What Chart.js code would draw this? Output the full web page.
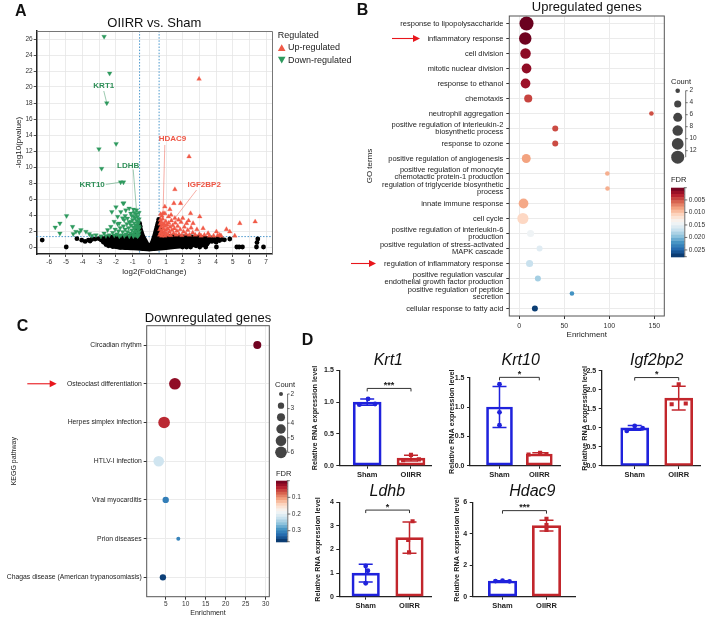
<!DOCTYPE html>
<html>
<head>
<meta charset="utf-8">
<title>Figure</title>
<script src="https://cdn.jsdelivr.net/npm/chart.js@4.4.1/dist/chart.umd.min.js"></script>
<style>
html,body{margin:0;padding:0;background:#fff;}
#wrap{position:relative;width:710px;height:617px;overflow:hidden;background:#fff;}
#wrap canvas{position:absolute;left:0;top:0;}
</style>
</head>
<body>
<div id="wrap"></div>
<script>
// ================= DATA =================
// ---- Panel A: volcano (log2FoldChange, -log10 pvalue) ----
const upPoints = [
 [2.98,21.0],[2.38,11.3],[1.53,7.2],[1.47,5.46],[1.87,5.46],[0.93,5.04],[1.23,4.7],[0.93,4.2],[2.47,4.2],[3.02,3.8],
 [5.42,2.96],[6.34,3.17],[4.02,1.92],[4.62,2.21],[4.82,1.92],[4.22,1.5],[4.1,1.45],[4.3,1.4],[5.12,1.4],[3.52,1.71],
 [3.22,2.33],[2.62,2.96],[2.23,2.96],[0.82,4.2],[1.53,3.6],
 [0.62,1.5],[0.63,2.2],[0.65,2.9],[0.66,3.4],[0.68,1.8],[0.7,2.5],[0.72,3.1],[0.74,1.4],[0.76,2.0],[0.78,2.7],
 [0.8,3.5],[0.82,1.6],[0.85,2.3],[0.88,2.9],[0.9,1.9],[0.93,1.4],[0.95,2.6],[0.98,3.2],[1.0,2.1],[1.03,1.6],
 [1.06,2.8],[1.1,2.3],[1.13,1.5],[1.16,3.0],[1.2,1.9],[1.24,2.5],[1.28,1.45],[1.32,3.3],[1.35,2.1],[1.4,2.7],
 [1.45,1.7],[1.5,2.3],[1.55,3.0],[1.6,1.5],[1.65,2.0],[1.7,2.6],[1.78,1.6],[1.85,2.2],[1.9,3.1],[1.95,1.45],
 [2.05,1.9],[2.1,2.5],[2.2,1.6],[2.3,2.1],[2.4,1.5],[2.5,2.4],[2.6,1.8],[2.75,1.5],[2.85,2.2],[3.0,1.6],
 [3.1,1.4],[3.3,1.5],[1.15,3.8],[1.3,4.0],[0.75,3.9],[2.0,3.6],[1.75,3.4],[2.35,3.3],[0.68,4.1],[3.85,1.4],[3.6,1.4]
];
const downPoints = [
 [-2.71,26.3],[-2.38,21.7],[-2.55,18.0],[-1.99,12.9],[-3.02,12.25],[-2.86,9.8],[-1.72,8.1],[-1.55,8.1],[-1.53,5.5],
 [-4.96,3.9],[-5.36,2.96],[-5.64,2.46],[-5.36,1.71],[-4.6,2.54],[-4.56,1.63],[-4.4,1.92],[-4.2,1.83],[-4.1,2.13],
 [-3.8,1.92],[-3.6,1.63],[-3.44,1.42],[-2.71,1.71],[-2.5,2.13],[-2.31,2.54],[-2.25,4.4],[-2.0,5.0],[-1.57,5.46],
 [-1.9,3.8],[-1.71,4.4],[-1.41,4.6],[-1.21,4.83],[-1.11,4.2],[-0.95,4.7],[-0.91,3.8],[-2.11,3.17],[-1.81,2.96],
 [-1.51,3.38],[-1.31,3.58],[-1.11,3.17],
 [-2.4,1.5],[-2.2,1.8],[-2.05,2.2],[-1.95,1.6],[-1.85,2.0],[-1.75,2.4],[-1.7,1.5],[-1.6,1.9],[-1.55,2.6],[-1.45,2.2],
 [-1.4,1.6],[-1.35,2.9],[-1.3,1.9],[-1.25,2.4],[-1.2,3.1],[-1.15,1.7],[-1.1,2.7],[-1.05,2.1],[-1.0,3.4],[-1.0,1.6],
 [-0.95,2.5],[-0.92,1.9],[-0.9,3.0],[-0.88,2.3],[-0.85,1.5],[-0.85,3.6],[-0.82,2.7],[-0.8,2.0],[-0.78,4.1],[-0.77,4.6],
 [-0.76,3.3],[-0.74,2.5],[-0.72,1.7],[-0.7,3.8],[-0.69,2.9],[-0.67,2.2],[-0.65,3.1],[-0.64,1.5],[-0.63,2.6],[-0.62,3.5],
 [-0.62,4.3],[-0.61,1.9],[-0.6,2.4],[-0.75,1.45],[-1.9,2.9],[-2.6,1.4],[-2.9,1.35],[-3.2,1.5],[-1.6,3.6],[-1.45,3.9],
 [-1.05,3.9],[-0.96,1.35],[-1.2,1.35],[-1.5,1.4],[-1.8,1.35],[-2.1,1.45],[-0.9,4.3],[-0.7,1.35]
];
const nsPoints = [
 [-6.42,0.87],[-4.98,0],[-4.34,1.04],[-4.05,0.85],[-3.85,0.7],[-3.65,0.85],[-3.45,0.95],[-3.25,1.0],[-3.05,1.05],
 [-2.85,1.1],[-3.55,0.75],[-2.9,0.9],[-2.75,0.6],[-2.6,0.3],[-1.75,-0.05],[1.99,0],[2.23,0],[2.47,0],[3.02,0],[3.38,0],
 [4.02,0],[5.24,0],[5.38,0],[5.58,0],[6.42,0],[6.84,0],[3.62,0.9],[3.75,0.7],[3.9,0.95],[4.0,0.6],[4.05,0.9],[4.1,1.1],
 [4.2,0.8],[4.35,0.95],[4.5,0.9],[4.82,1.0],[6.5,1.0],[6.45,0.55],[3.7,1.15],[0.52,3.0],[0.48,2.6],[0.56,3.45],
 [-0.58,2.95],[-0.55,2.6],[-0.6,2.7],[-2.45,0.15],[-2.2,0.05],[3.45,0.35],[3.2,0.25],[2.8,0.15]
];
// outline of the dense cloud of non-significant genes
const nsRegion = [
 [-2.7,0.55],[-2.72,1.0],[-2.5,1.25],[-2.0,1.3],[-1.2,1.35],[-0.9,1.55],[-0.72,2.2],[-0.62,2.8],[-0.52,2.3],[-0.38,1.4],
 [-0.2,0.7],[-0.05,0.2],[0.05,0.2],[0.18,0.7],[0.32,1.6],[0.45,2.6],[0.55,3.2],[0.66,2.3],[0.8,1.5],[1.5,1.35],
 [2.5,1.3],[3.3,1.22],[3.55,1.0],[3.55,0.55],[3.0,0.3],[2.0,0.1],[1.0,-0.12],[0.3,-0.25],[0.0,-0.3],[-0.4,-0.25],
 [-1.0,-0.15],[-1.8,-0.05],[-2.3,0.15],[-2.7,0.55]
];
const geneLabels = ['KRT1','KRT10','LDHB','HDAC9','IGF2BP2'];
const geneLogFC = [-2.55,-1.72,-0.77,0.82,1.53];
const geneLogP = [18.0,8.1,4.6,4.2,3.6];
const fcCutoff = 0.585, pCutoff = 1.3;
const volcanoXTicks = [-6,-5,-4,-3,-2,-1,0,1,2,3,4,5,6,7];
const volcanoYTicks = [0,2,4,6,8,10,12,14,16,18,20,22,24,26];
const regulatedLegend = ['Up-regulated','Down-regulated'];

// ---- Panel B: GO enrichment (upregulated) ----
const goTerms = [
 'response to lipopolysaccharide','inflammatory response','cell division','mitotic nuclear division','response to ethanol',
 'chemotaxis','neutrophil aggregation',['positive regulation of interleukin-2','biosynthetic process'],'response to ozone',
 'positive regulation of angiogenesis',['positive regulation of monocyte','chemotactic protein-1 production'],
 ['regulation of triglyceride biosynthetic','process'],'innate immune response','cell cycle',
 ['positive regulation of interleukin-6','production'],['positive regulation of stress-activated','MAPK cascade'],
 'regulation of inflammatory response',['positive regulation vascular','endothelial growth factor production'],
 ['positive regulation of peptide','secretion'],'cellular response to fatty acid'
];
const goEnrichment = [8.1,6.7,7.0,8.1,7.0,10.0,146.7,40.0,40.0,7.8,97.8,98.0,4.8,4.1,12.6,22.6,11.5,20.7,58.5,17.4];
const goCount = [14,11,8,7,7,5,2,3,3,6,2,2,7,9,4,3,4,3,2,3];
const goFDR = [0.0002,0.0004,0.0015,0.0016,0.0021,0.0045,0.0050,0.0048,0.0048,0.0083,0.0089,0.0089,0.0086,0.0110,0.0145,0.0156,0.0170,0.0186,0.0222,0.0270];
const goFDRRange = [0.0001,0.0277];
const goXTicks = [0,50,100,150];
const goCountBreaks = [2,4,6,8,10,12];
const goFDRBreaks = [0.005,0.010,0.015,0.020,0.025];
const goFDRBreakLabels = ['0.005','0.010','0.015','0.020','0.025'];
const goHighlighted = ['inflammatory response','regulation of inflammatory response'];

// ---- Panel C: KEGG enrichment (downregulated) ----
const keggPathways = ['Circadian rhythm','Osteoclast differentiation','Herpes simplex infection','HTLV-I infection',
 'Viral myocarditis','Prion diseases','Chagas disease (American trypanosomiasis)'];
const keggEnrichment = [27.9,7.3,4.6,3.25,5.0,8.15,4.3];
const keggCount = [4,7,7,6,3,2,3];
const keggFDR = [0.005,0.02,0.045,0.22,0.31,0.305,0.355];
const keggFDRRange = [0,0.366];
const keggXTicks = [5,10,15,20,25,30];
const keggCountBreaks = [2,3,4,5,6];
const keggCountCircles = [2,3,4,5,6,7];
const keggFDRBreaks = [0.1,0.2,0.3];
const keggFDRBreakLabels = ['0.1','0.2','0.3'];
const keggHighlighted = ['Osteoclast differentiation'];

// ---- Panel D: qPCR ----
const qpcrGenes = ['Krt1','Krt10','Igf2bp2','Ldhb','Hdac9'];
const qpcrGroups = ['Sham','OIIRR'];
const shamValues = [[0.96,1.05,0.97],[1.39,0.91,0.69],[0.92,1.05,0.99],[1.30,1.10,0.57],[0.99,1.02,0.98]];
const oiirrValues = [[0.085,0.17,0.10],[0.19,0.22,0.20],[1.62,2.14,1.64],[3.20,2.40,1.88],[4.95,4.55,4.25]];
const shamMean = [1.0,1.0,1.0,1.0,1.0];
const oiirrMean = [0.12,0.20,1.78,2.50,4.52];
const shamSD = [0.05,0.35,0.06,0.38,0.02];
const oiirrSD = [0.045,0.02,0.31,0.66,0.34];
const qpcrSignificance = ['***','*','*','*','***'];
const qpcrYMax = [1.5,1.5,2.5,4,6];
const qpcrYStep = [0.5,0.5,0.5,1,2];

// ================= STYLE / LAYOUT =================
const W = 710, H = 617;
const FONT = "'Liberation Sans', Arial, Helvetica, sans-serif";
Chart.defaults.font.family = FONT;
Chart.defaults.color = '#222';
const UPC = '#f05a47', DOWNC = '#2e9a5e', UPLAB = '#ee5544', DOWNLAB = '#2f8f58';
const BLUE = '#1f22dc', RED = '#c2262c', ARROW = '#e8161c';

const LA = {area:{l:36.7,t:31,r:272,b:254}, x:[-6.75,7.35], y:[-0.875,27], yW:22.4, xH:21.7,
  lab:{dx:[-3,-28.5,-8.3,9.5,29.3], dy:[-17,3,-44.5,-74.4,-33.5], sx:[0,13.7,5,-7.7,-7.6], sy:[5,-0.8,3.8,6,5.3]}};
const LB = {area:{l:509.3,t:16,r:664.3,b:316}, x:[-11,161], yW:143.3, xH:22.3,
  count:{tx:671,ty:82,cx:677.7,cy:90.7,cstep:13.3,lx:689.5,ly:90.7,lstep:12,line:685.7},
  bar:{x:671,y:187.7,w:13.3,h:69}, fdrTitle:[671,180], arrows:[[392,420],[351,376]]};
const LC = {area:{l:146.7,t:325.7,r:269.3,b:596.7}, x:[0.25,30.9], yW:146, titlePad:9.8, xH:20.1,
  count:{tx:275,ty:385,cx:281,cy:394,cstep:11.66,lx:290.5,ly:394,lstep:14.58,line:287.6},
  bar:{x:276,y:480.7,w:11.3,h:61}, fdrTitle:[276,474.3], arrows:[[27.3,56.7]]};
const LD = [
 {area:{l:339.3,t:370.3,r:431.7,b:465.7}, x:[-0.637,1.473], yW:28, bar:28, title:[388.3,365], brk:1.215,
  jit:[[-0.18,0.02,0.18],[-0.18,0,0.18]]},
 {area:{l:470,t:377.7,r:560,b:465.7}, x:[-0.741,1.52], yW:22, bar:26, title:[520.7,365], brk:1.506,
  jit:[[0,0,0],[-0.27,0.02,0.18]]},
 {area:{l:601.7,t:370.7,r:700,b:466}, x:[-0.75,1.484], yW:20.5, bar:28, title:[656.7,365], brk:2.32,
  jit:[[-0.18,0,0.18],[-0.16,0,0.16]]},
 {area:{l:339.3,t:502.3,r:431.7,b:596.7}, x:[-0.603,1.507], yW:25, bar:27.5, title:[387.3,495.7], brk:3.67,
  jit:[[0,0.05,0],[0.07,-0.03,-0.01]]},
 {area:{l:472.7,t:502.3,r:575,b:596.7}, x:[-0.677,1.648], yW:19.75, bar:28.4, title:[532.3,495.7], brk:5.47,
  jit:[[-0.16,0,0.16],[0,0,0]]}
];

// ================= HELPERS =================
function addCanvas(){
  const c = document.createElement('canvas');
  c.width = W; c.height = H;
  document.getElementById('wrap').appendChild(c);
  return c;
}
function fixLayout(a, yW, xH){
  return {padding:{left:a.l - yW, top:a.t, right:W - a.r, bottom:H - a.b - xH}};
}
function txt(ctx, s, x, y, font, color, align, base){
  ctx.save(); ctx.font = font; ctx.fillStyle = color || '#222';
  ctx.textAlign = align || 'center'; ctx.textBaseline = base || 'middle';
  ctx.fillText(s, x, y); ctx.restore();
}
const RDBU = ['#67001f','#b2182b','#d6604d','#f4a582','#fddbc7','#f7f7f7','#d1e5f0','#92c5de','#4393c3','#2166ac','#053061'];
function hex(c){ return [1,3,5].map(i=>parseInt(c.substr(i,2),16)); }
function cmap(t){
  t = Math.max(0, Math.min(1, t));
  const p = t*(RDBU.length-1); const i = Math.min(Math.floor(p), RDBU.length-2); const f = p - i;
  const a = hex(RDBU[i]), b = hex(RDBU[i+1]);
  return 'rgb(' + a.map((v,k)=>Math.round(v+(b[k]-v)*f)).join(',') + ')';
}
const rB = c => Math.sqrt(2.3*2.3 + 3.696*(c-2));
const rC = c => Math.sqrt(4 + 6.02*(c-2));
function frame(ctx, a, color, lw){
  ctx.save(); ctx.strokeStyle = color; ctx.lineWidth = lw;
  ctx.strokeRect(a.left, a.top, a.right-a.left, a.bottom-a.top); ctx.restore();
}
function arrow(ctx, x1, x2, y){
  ctx.save(); ctx.strokeStyle = ARROW; ctx.fillStyle = ARROW; ctx.lineWidth = 1.1;
  ctx.beginPath(); ctx.moveTo(x1, y); ctx.lineTo(x2-6, y); ctx.stroke();
  ctx.beginPath(); ctx.moveTo(x2, y); ctx.lineTo(x2-7, y-3.6); ctx.lineTo(x2-7, y+3.6); ctx.closePath(); ctx.fill();
  ctx.restore();
}
function countLegend(ctx, L, circleCounts, labels, rFn){
  txt(ctx, 'Count', L.tx, L.ty, '7.5px '+FONT, '#222', 'left');
  ctx.save(); ctx.fillStyle = '#444';
  circleCounts.forEach((c,i)=>{ ctx.beginPath(); ctx.arc(L.cx, L.cy + i*L.cstep, rFn(c), 0, Math.PI*2); ctx.fill(); });
  const yEnd = L.cy + (circleCounts.length-1)*L.cstep;
  ctx.strokeStyle = '#333'; ctx.lineWidth = 0.7;
  ctx.beginPath(); ctx.moveTo(L.line, L.cy); ctx.lineTo(L.line, yEnd); ctx.stroke();
  labels.forEach((v,i)=>{ const y = L.ly + i*L.lstep;
    ctx.beginPath(); ctx.moveTo(L.line, y); ctx.lineTo(L.line+2, y); ctx.stroke();
    txt(ctx, String(v), L.lx, y, '6.5px '+FONT, '#333', 'left'); });
  ctx.restore();
}
function colorbar(ctx, B, range, breaks, labels, titlePos){
  txt(ctx, 'FDR', titlePos[0], titlePos[1], '7.5px '+FONT, '#222', 'left');
  const n = 22;
  ctx.save();
  for (let i=0;i<n;i++){ ctx.fillStyle = cmap((i+0.5)/n); ctx.fillRect(B.x, B.y + i*B.h/n, B.w, B.h/n + 0.6); }
  ctx.strokeStyle = '#333'; ctx.lineWidth = 0.7;
  const xr = B.x + B.w + 0.5;
  ctx.beginPath(); ctx.moveTo(xr, B.y); ctx.lineTo(xr, B.y+B.h); ctx.stroke();
  ctx.beginPath(); ctx.moveTo(xr-1, B.y); ctx.lineTo(xr+2, B.y); ctx.moveTo(xr-1, B.y+B.h); ctx.lineTo(xr+2, B.y+B.h); ctx.stroke();
  breaks.forEach((v,i)=>{ const y = B.y + (v-range[0])/(range[1]-range[0])*B.h;
    ctx.beginPath(); ctx.moveTo(xr, y); ctx.lineTo(xr+2.5, y); ctx.stroke();
    txt(ctx, labels[i], xr+4, y, '6.5px '+FONT, '#333', 'left'); });
  ctx.restore();
}
function termIndex(list, name){ return list.findIndex(t => (Array.isArray(t) ? t.join(' ') : t) === name); }
const baseOpts = {responsive:false, animation:false, events:[], plugins:{legend:{display:false}, tooltip:{enabled:false}}};

// ================= PANEL A =================
(function(){
  const a = LA.area;
  const pts = arr => arr.map(p=>({x:p[0], y:p[1]}));
  const plugin = {
    id:'volcanoExtras',
    beforeDatasetsDraw(chart){
      const {ctx, chartArea:ca, scales:{x,y}} = chart;
      ctx.save(); ctx.strokeStyle = '#4a97cc'; ctx.lineWidth = 1; ctx.setLineDash([1.5,1.6]);
      [-fcCutoff, fcCutoff].forEach(v=>{ const px = x.getPixelForValue(v);
        ctx.beginPath(); ctx.moveTo(px, ca.top); ctx.lineTo(px, ca.bottom); ctx.stroke(); });
      const py = y.getPixelForValue(pCutoff);
      ctx.beginPath(); ctx.moveTo(ca.left, py); ctx.lineTo(ca.right, py); ctx.stroke();
      ctx.restore();
    },
    afterDraw(chart){
      const {ctx, chartArea:ca, scales:{x,y}} = chart;
      ctx.save(); ctx.strokeStyle = '#777'; ctx.lineWidth = 1;
      ctx.beginPath(); ctx.moveTo(ca.left, ca.top+0.5); ctx.lineTo(ca.right+0.5, ca.top+0.5); ctx.lineTo(ca.right+0.5, ca.bottom); ctx.stroke();
      ctx.restore();
      geneLabels.forEach((g,i)=>{
        const px = x.getPixelForValue(geneLogFC[i]), py = y.getPixelForValue(geneLogP[i]);
        const lx = px + LA.lab.dx[i], ly = py + LA.lab.dy[i];
        const col = geneLogFC[i] > 0 ? UPLAB : DOWNLAB;
        ctx.save(); ctx.strokeStyle = col; ctx.globalAlpha = 0.6; ctx.lineWidth = 0.8;
        ctx.beginPath(); ctx.moveTo(lx + LA.lab.sx[i], ly + LA.lab.sy[i]); ctx.lineTo(px, py); ctx.stroke(); ctx.restore();
        txt(ctx, g, lx, ly, 'bold 8px '+FONT, col, 'center');
      });
      txt(ctx, 'OIIRR vs. Sham', 154.3, 26.7, '13px '+FONT, '#111', 'center', 'alphabetic');
      txt(ctx, 'A', 15, 16, 'bold 16px '+FONT, '#111', 'left', 'alphabetic');
      txt(ctx, 'Regulated', 277.7, 35.5, '9px '+FONT, '#222', 'left');
      ctx.save();
      ctx.fillStyle = UPC; ctx.beginPath(); ctx.moveTo(281.7, 44.2); ctx.lineTo(285.5, 51); ctx.lineTo(277.9, 51); ctx.closePath(); ctx.fill();
      ctx.fillStyle = DOWNC; ctx.beginPath(); ctx.moveTo(281.7, 63.5); ctx.lineTo(285.5, 56.7); ctx.lineTo(277.9, 56.7); ctx.closePath(); ctx.fill();
      ctx.restore();
      txt(ctx, regulatedLegend[0], 288, 47.9, '9px '+FONT, '#222', 'left');
      txt(ctx, regulatedLegend[1], 288, 60.2, '9px '+FONT, '#222', 'left');
    }
  };
  new Chart(addCanvas(), {
    type:'scatter',
    data:{datasets:[
      {type:'line', data:pts(nsRegion), borderColor:'#000', backgroundColor:'#000', borderWidth:4, fill:'shape', pointRadius:0, tension:0.25, order:5},
      {data:pts(nsPoints), backgroundColor:'#000', borderColor:'#000', pointRadius:2.4, borderWidth:0, order:4},
      {data:pts(downPoints), pointStyle:'triangle', rotation:180, backgroundColor:DOWNC, borderColor:DOWNC, pointRadius:2.7, borderWidth:0.3, order:3},
      {data:pts(upPoints), pointStyle:'triangle', backgroundColor:UPC, borderColor:UPC, pointRadius:2.7, borderWidth:0.3, order:2}
    ]},
    options:Object.assign({}, baseOpts, {
      layout: fixLayout(a, LA.yW, LA.xH),
      scales:{
        x:{type:'linear', min:LA.x[0], max:LA.x[1], afterBuildTicks:s=>{s.ticks = volcanoXTicks.map(v=>({value:v}));}, afterFit:s=>{s.height = LA.xH;},
           grid:{color:'#e6e6e6', lineWidth:0.8, tickLength:3, tickColor:'#222'}, border:{color:'#222', width:1.5},
           ticks:{font:{size:6.5}, color:'#333', padding:1, maxRotation:0, autoSkip:false},
           title:{display:true, text:'log2(FoldChange)', font:{size:8, lineHeight:1}, color:'#222', padding:0}},
        y:{type:'linear', min:LA.y[0], max:LA.y[1], afterBuildTicks:s=>{s.ticks = volcanoYTicks.map(v=>({value:v}));}, afterFit:s=>{s.width = LA.yW;},
           grid:{color:'#e6e6e6', lineWidth:0.8, tickLength:3, tickColor:'#222'}, border:{color:'#222', width:1.5},
           ticks:{font:{size:6.5}, color:'#333', padding:1, autoSkip:false},
           title:{display:true, text:'-log10(pvalue)', font:{size:8, lineHeight:1}, color:'#222', padding:0}}
      }
    }),
    plugins:[plugin]
  });
})();

// ================= PANEL B =================
(function(){
  const plugin = {
    id:'goExtras',
    afterDraw(chart){
      const {ctx, chartArea:ca, scales:{y}} = chart;
      frame(ctx, ca, '#555', 1);
      txt(ctx, 'Upregulated genes', (ca.left+ca.right)/2, 11, '13px '+FONT, '#111', 'center', 'alphabetic');
      txt(ctx, 'B', 356.7, 15, 'bold 16px '+FONT, '#111', 'left', 'alphabetic');
      countLegend(ctx, LB.count, goCountBreaks, goCountBreaks, rB);
      colorbar(ctx, LB.bar, goFDRRange, goFDRBreaks, goFDRBreakLabels, LB.fdrTitle);
      goHighlighted.forEach((n,i)=>{ const py = y.getPixelForValue(termIndex(goTerms, n)); arrow(ctx, LB.arrows[i][0], LB.arrows[i][1], py); });
    }
  };
  new Chart(addCanvas(), {
    type:'bubble',
    data:{datasets:[{
      data: goTerms.map((t,i)=>({x:goEnrichment[i], y:i, r:rB(goCount[i])})),
      backgroundColor: goFDR.map(f=>cmap((f-goFDRRange[0])/(goFDRRange[1]-goFDRRange[0]))),
      borderWidth:0
    }]},
    options:Object.assign({}, baseOpts, {
      layout: fixLayout(LB.area, LB.yW, LB.xH),
      scales:{
        x:{type:'linear', min:LB.x[0], max:LB.x[1], afterBuildTicks:s=>{s.ticks = goXTicks.map(v=>({value:v}));}, afterFit:s=>{s.height = LB.xH;},
           grid:{color:'#ebebeb', tickLength:3, tickColor:'#333'}, border:{display:false},
           ticks:{font:{size:7}, color:'#333', padding:3, maxRotation:0, autoSkip:false},
           title:{display:true, text:'Enrichment', font:{size:8, lineHeight:1}, color:'#222', padding:0}},
        y:{type:'category', labels:goTerms, offset:true, afterFit:s=>{s.width = LB.yW;},
           grid:{offset:false, color:'#ebebeb', tickLength:3, tickColor:'#333'}, border:{display:false},
           ticks:{font:{size:7.5, lineHeight:1.0}, color:'#222', padding:3, autoSkip:false},
           title:{display:true, text:'GO terms', font:{size:8, lineHeight:1}, color:'#222', padding:0}}
      }
    }),
    plugins:[plugin]
  });
})();

// ================= PANEL C =================
(function(){
  const plugin = {
    id:'keggExtras',
    afterDraw(chart){
      const {ctx, chartArea:ca, scales:{y}} = chart;
      frame(ctx, ca, '#555', 1);
      txt(ctx, 'Downregulated genes', (ca.left+ca.right)/2, 321.7, '13px '+FONT, '#111', 'center', 'alphabetic');
      txt(ctx, 'C', 16.7, 330.7, 'bold 16px '+FONT, '#111', 'left', 'alphabetic');
      countLegend(ctx, LC.count, keggCountCircles, keggCountBreaks, rC);
      colorbar(ctx, LC.bar, keggFDRRange, keggFDRBreaks, keggFDRBreakLabels, LC.fdrTitle);
      keggHighlighted.forEach((n,i)=>{ const py = y.getPixelForValue(termIndex(keggPathways, n)); arrow(ctx, LC.arrows[i][0], LC.arrows[i][1], py); });
    }
  };
  new Chart(addCanvas(), {
    type:'bubble',
    data:{datasets:[{
      data: keggPathways.map((t,i)=>({x:keggEnrichment[i], y:i, r:rC(keggCount[i])})),
      backgroundColor: keggFDR.map(f=>cmap((f-keggFDRRange[0])/(keggFDRRange[1]-keggFDRRange[0]))),
      borderWidth:0
    }]},
    options:Object.assign({}, baseOpts, {
      layout: fixLayout(LC.area, LC.yW, LC.xH),
      scales:{
        x:{type:'linear', min:LC.x[0], max:LC.x[1], afterBuildTicks:s=>{s.ticks = keggXTicks.map(v=>({value:v}));}, afterFit:s=>{s.height = LC.xH;},
           grid:{color:'#ebebeb', tickLength:3, tickColor:'#333'}, border:{display:false},
           ticks:{font:{size:6.5}, color:'#333', padding:0.5, maxRotation:0, autoSkip:false},
           title:{display:true, text:'Enrichment', font:{size:7, lineHeight:1}, color:'#222', padding:0}},
        y:{type:'category', labels:keggPathways, offset:true, afterFit:s=>{s.width = LC.yW;},
           grid:{offset:false, color:'#ebebeb', tickLength:3, tickColor:'#333'}, border:{display:false},
           ticks:{font:{size:6.8}, color:'#222', padding:2, autoSkip:false},
           title:{display:true, text:'KEGG pathway', font:{size:7, lineHeight:1}, color:'#222', padding:{top:LC.titlePad, bottom:0}}}
      }
    }),
    plugins:[plugin]
  });
})();

// ================= PANEL D =================
function makeQpcr(g){
  const L = LD[g];
  const dec = qpcrYStep[g] < 1 ? 1 : 0;
  const plugin = {
    id:'qpcrExtras'+g,
    afterDatasetDraw(chart, args){
      if (args.index !== 0) return;
      const {ctx, scales:{x,y}} = chart;
      [[0, shamMean[g], shamSD[g], BLUE],[1, oiirrMean[g], oiirrSD[g], RED]].forEach(([gx,m,sd,col])=>{
        const px = x.getPixelForValue(gx), y1 = y.getPixelForValue(m-sd), y2 = y.getPixelForValue(m+sd);
        ctx.save(); ctx.strokeStyle = col; ctx.lineWidth = 1.5;
        ctx.beginPath(); ctx.moveTo(px, y1); ctx.lineTo(px, y2);
        ctx.moveTo(px-7, y1); ctx.lineTo(px+7, y1); ctx.moveTo(px-7, y2); ctx.lineTo(px+7, y2); ctx.stroke(); ctx.restore();
      });
    },
    afterDraw(chart){
      const {ctx, scales:{x,y}} = chart;
      const x0 = x.getPixelForValue(0), x1 = x.getPixelForValue(1), by = y.getPixelForValue(L.brk);
      ctx.save(); ctx.strokeStyle = '#333'; ctx.lineWidth = 1;
      ctx.beginPath(); ctx.moveTo(x0, by+3); ctx.lineTo(x0, by); ctx.lineTo(x1, by); ctx.lineTo(x1, by+3); ctx.stroke(); ctx.restore();
      txt(ctx, qpcrSignificance[g], (x0+x1)/2, by-3, 'bold 9px '+FONT, '#222', 'center');
      txt(ctx, qpcrGenes[g], L.title[0], L.title[1], 'italic 16px '+FONT, '#111', 'center', 'alphabetic');
      if (g === 0) txt(ctx, 'D', 301.7, 345, 'bold 16px '+FONT, '#111', 'left', 'alphabetic');
    }
  };
  new Chart(addCanvas(), {
    type:'bar',
    data:{datasets:[
      {type:'bar', data:[{x:0, y:shamMean[g]},{x:1, y:oiirrMean[g]}], backgroundColor:'rgba(255,255,255,0)',
       borderColor:[BLUE, RED], borderWidth:2, borderSkipped:false, barThickness:L.bar, order:3},
      {type:'scatter', data:shamValues[g].map((v,i)=>({x:0+L.jit[0][i], y:v})), pointStyle:'circle', pointRadius:2.4,
       backgroundColor:BLUE, borderColor:BLUE, borderWidth:0, order:1},
      {type:'scatter', data:oiirrValues[g].map((v,i)=>({x:1+L.jit[1][i], y:v})), pointStyle:'rect', pointRadius:2.9,
       backgroundColor:RED, borderColor:RED, borderWidth:0, order:2}
    ]},
    options:Object.assign({}, baseOpts, {
      layout: fixLayout(L.area, L.yW, 20),
      scales:{
        x:{type:'linear', offset:false, min:L.x[0], max:L.x[1], afterBuildTicks:s=>{s.ticks = [{value:0},{value:1}];}, afterFit:s=>{s.height = 20;},
           grid:{display:true, drawOnChartArea:false, offset:false, tickLength:3, tickColor:'#222'}, border:{color:'#222', width:1.3},
           ticks:{font:{size:7.5, weight:'bold'}, color:'#222', padding:1.5, maxRotation:0, autoSkip:false, callback:v=>qpcrGroups[v]}},
        y:{type:'linear', min:0, max:qpcrYMax[g], afterFit:s=>{s.width = L.yW;},
           grid:{display:true, drawOnChartArea:false, tickLength:3, tickColor:'#222'}, border:{color:'#222', width:1.3},
           ticks:{stepSize:qpcrYStep[g], font:{size:7, weight:'bold'}, color:'#222', padding:2.5, callback:v=>Number(v).toFixed(dec)},
           title:{display:true, text:'Relative RNA expression level', font:{size:7.3, weight:'bold', lineHeight:1}, color:'#222', padding:0}}
      }
    }),
    plugins:[plugin]
  });
}
qpcrGenes.forEach((_, g)=>makeQpcr(g));
</script>
</body>
</html>
